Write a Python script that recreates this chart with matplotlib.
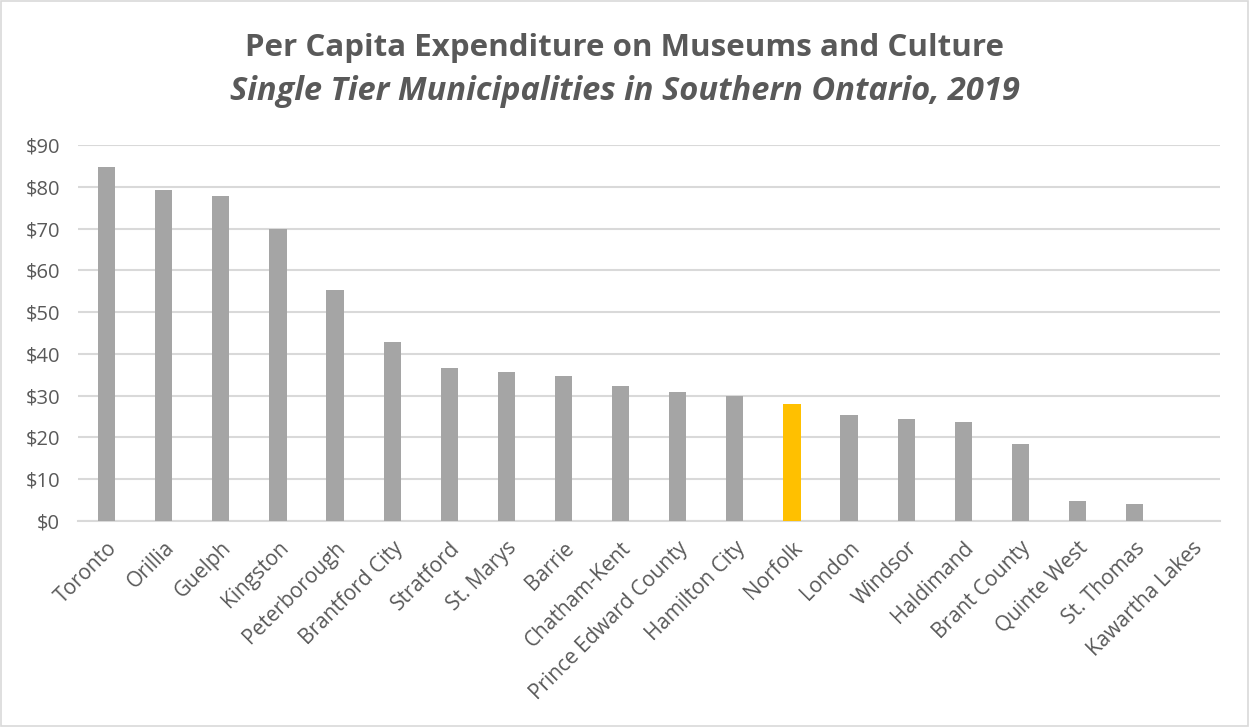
import matplotlib
matplotlib.use("Agg")
import matplotlib.pyplot as plt
from matplotlib.patches import Rectangle

municipalities = ["Toronto", "Orillia", "Guelph", "Kingston", "Peterborough",
                  "Brantford City", "Stratford", "St. Marys", "Barrie", "Chatham-Kent",
                  "Prince Edward County", "Hamilton City", "Norfolk", "London", "Windsor",
                  "Haldimand", "Brant County", "Quinte West", "St. Thomas", "Kawartha Lakes"]
spending = [84.7, 79.2, 77.7, 69.9, 55.4, 42.9, 36.5, 35.6, 34.7, 32.3,
            30.8, 29.8, 28.0, 25.3, 24.3, 23.8, 18.4, 4.7, 4.1, 0.0]
highlight = "Norfolk"
y_ticks = [0, 10, 20, 30, 40, 50, 60, 70, 80, 90]
y_tick_labels = ["$" + str(v) for v in y_ticks]

title = "Per Capita Expenditure on Museums and Culture"
subtitle = "Single Tier Municipalities in Southern Ontario, 2019"

plt.rcParams['font.family'] = ['Open Sans', 'DejaVu Sans']
text_color = "#595959"

fig = plt.figure(figsize=(12.49, 7.27), dpi=100)
ax = fig.add_axes([0.0625, 0.2834, 0.9145, 0.5172])

colors = ["#ffc000" if m == highlight else "#a5a5a5" for m in municipalities]
x = list(range(len(municipalities)))
ax.bar(x, spending, width=0.3, color=colors, zorder=3)

ax.set_xlim(-0.5, len(municipalities) - 0.5)
ax.set_ylim(0, 90)
ax.set_yticks(y_ticks)
ax.set_yticklabels(y_tick_labels, fontsize=14.5, color=text_color)
ax.set_xticks(x)
ax.set_xticklabels(municipalities, rotation=45, ha="right", rotation_mode="anchor",
                   fontsize=15, color=text_color)
ax.tick_params(axis="both", length=0)
ax.tick_params(axis="y", pad=13)
ax.tick_params(axis="x", pad=12)
ax.grid(axis="y", color="#d9d9d9", linewidth=1.5, zorder=0)
for s in ["top", "right", "left"]:
    ax.spines[s].set_visible(False)
ax.spines["bottom"].set_color("#d9d9d9")
ax.spines["bottom"].set_linewidth(1.5)

fig.text(0.5, 0.934, title, ha="center", va="center", fontsize=22.5,
         fontweight="bold", color=text_color)
fig.text(0.5, 0.874, subtitle, ha="center", va="center", fontsize=23.5,
         fontweight="bold", fontstyle="italic", color=text_color)

fig.patches.append(Rectangle((0.001, 0.001), 0.998, 0.998, transform=fig.transFigure,
                             fill=False, edgecolor="#d9d9d9", linewidth=1.2))

fig.savefig("out.png", dpi=100)
